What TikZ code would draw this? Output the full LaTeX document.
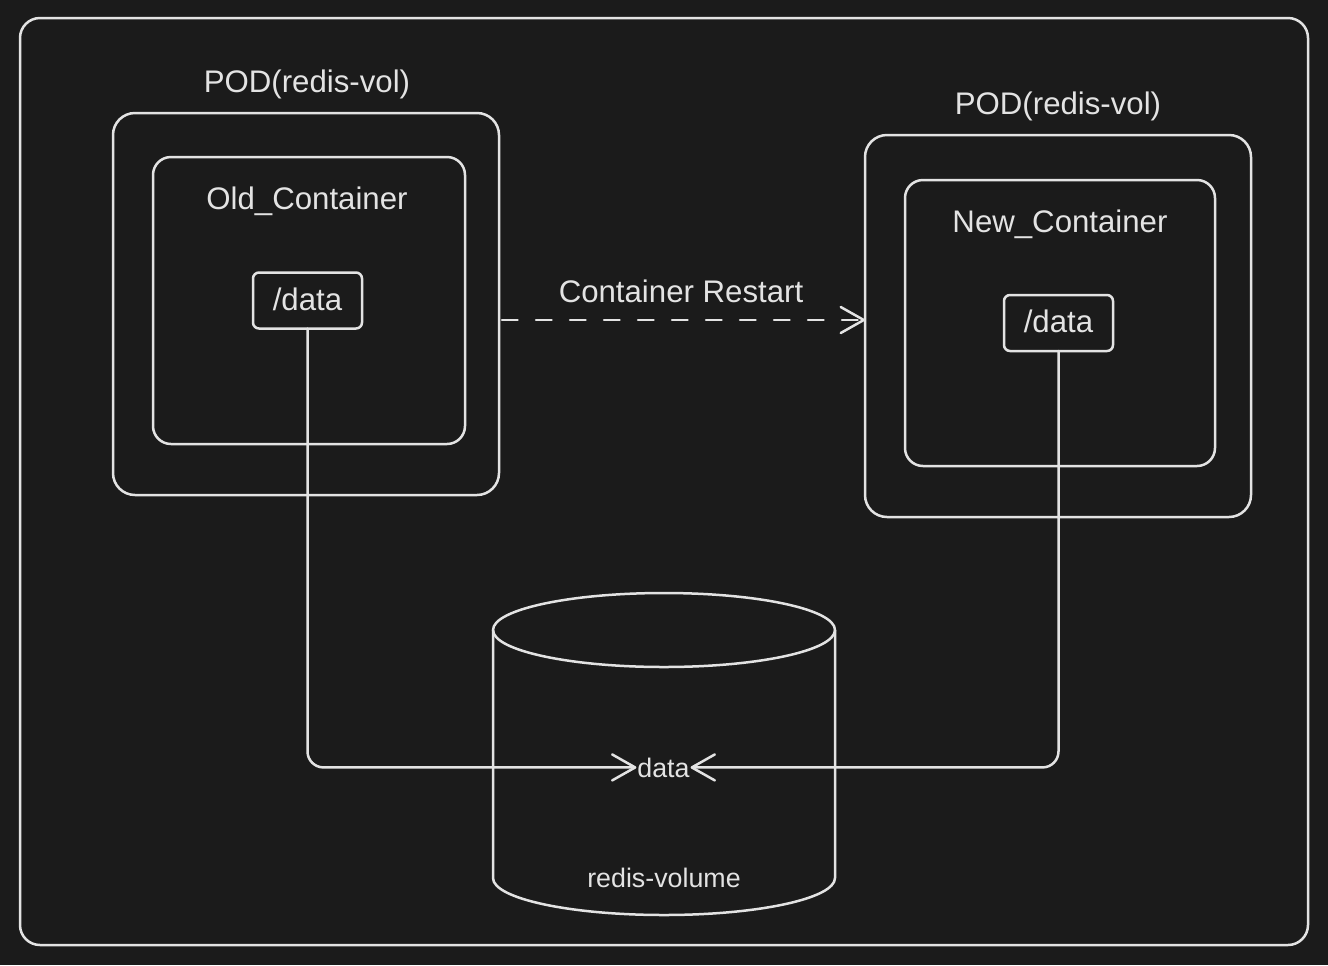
\documentclass[tikz,border=0pt]{standalone}
\usepackage{fontspec}
\setmainfont{Liberation Sans}
\usetikzlibrary{arrows.meta}
\definecolor{bgc}{HTML}{1B1B1B}
\definecolor{fgc}{HTML}{E3E3E3}
\begin{document}
\begin{tikzpicture}[x=0.5pt,y=-0.5pt,
  line width=1.25pt, line cap=round, line join=round,
  every node/.style={text=fgc, inner sep=0pt, outer sep=0pt},
  box/.style={draw=fgc, rectangle},
  podbox/.style={box, minimum width=193pt, minimum height=191pt, rounded corners=11pt},
  conbox/.style={box, rounded corners=9pt},
  databox/.style={box, minimum width=54.5pt, minimum height=28pt, rounded corners=3pt},
  lbl/.style={font=\fontsize{15.6pt}{18pt}\selectfont, anchor=base},
  smalllbl/.style={font=\fontsize{13.4pt}{16pt}\selectfont, anchor=base},
  conn/.style={draw=fgc, rounded corners=8pt},
  tip/.style={-{Straight Barb[length=11.5pt,width=13pt,round]}},
]
\useasboundingbox (0,0) rectangle (1328,965);
\fill[bgc] (0,0) rectangle (1328,965);
% outer frame
\draw[fgc, rounded corners=10pt] (20,18) rectangle (1308,945);

% left pod
\node[podbox] (lpod) at (306,304) {};
\node[conbox, minimum width=156pt, minimum height=143.5pt] (lcon) at (309,300.5) {};
\node[databox] (ld) at (307.5,300.5) {};
\node[lbl] (lpodt) at (307,92) {POD(redis-vol)};
\node[lbl] (lcont) at (307,209) {Old\_Container};
\node[lbl] (ldt) at (307.5,310) {/data};

% right pod
\node[podbox] (rpod) at (1058,326) {};
\node[conbox, minimum width=155pt, minimum height=143pt] (rcon) at (1060,323) {};
\node[databox] (rd) at (1058.5,323) {};
\node[lbl] (rpodt) at (1058,114) {POD(redis-vol)};
\node[lbl] (rcont) at (1060,232) {New\_Container};
\node[lbl] (rdt) at (1058.5,332) {/data};

% restart arrow
\node[lbl] (restart) at (681,302) {Container Restart};
\draw[fgc, tip, dash pattern=on 7.8pt off 9.2pt]
  ([xshift=1.5pt,yshift=-8pt]lpod.east) -- ([yshift=-8pt]lpod.east -| rpod.west);

% cylinder
\draw[fgc] (664,630) ellipse [x radius=85.5pt, y radius=18.5pt];
\draw[fgc] (493,630) -- (493,878) arc[start angle=180, end angle=360, x radius=85.5pt, y radius=18.5pt] -- (835,630);
\node[smalllbl] (vol) at (664,887) {redis-volume};
\node[smalllbl] (dat) at (663.5,777) {data};

% connectors
\draw[conn, tip] (ld.south) |- ([xshift=-0.5pt]dat.west);
\draw[conn, tip] (rd.south) |- ([xshift=0.5pt]dat.east);
\end{tikzpicture}
\end{document}
